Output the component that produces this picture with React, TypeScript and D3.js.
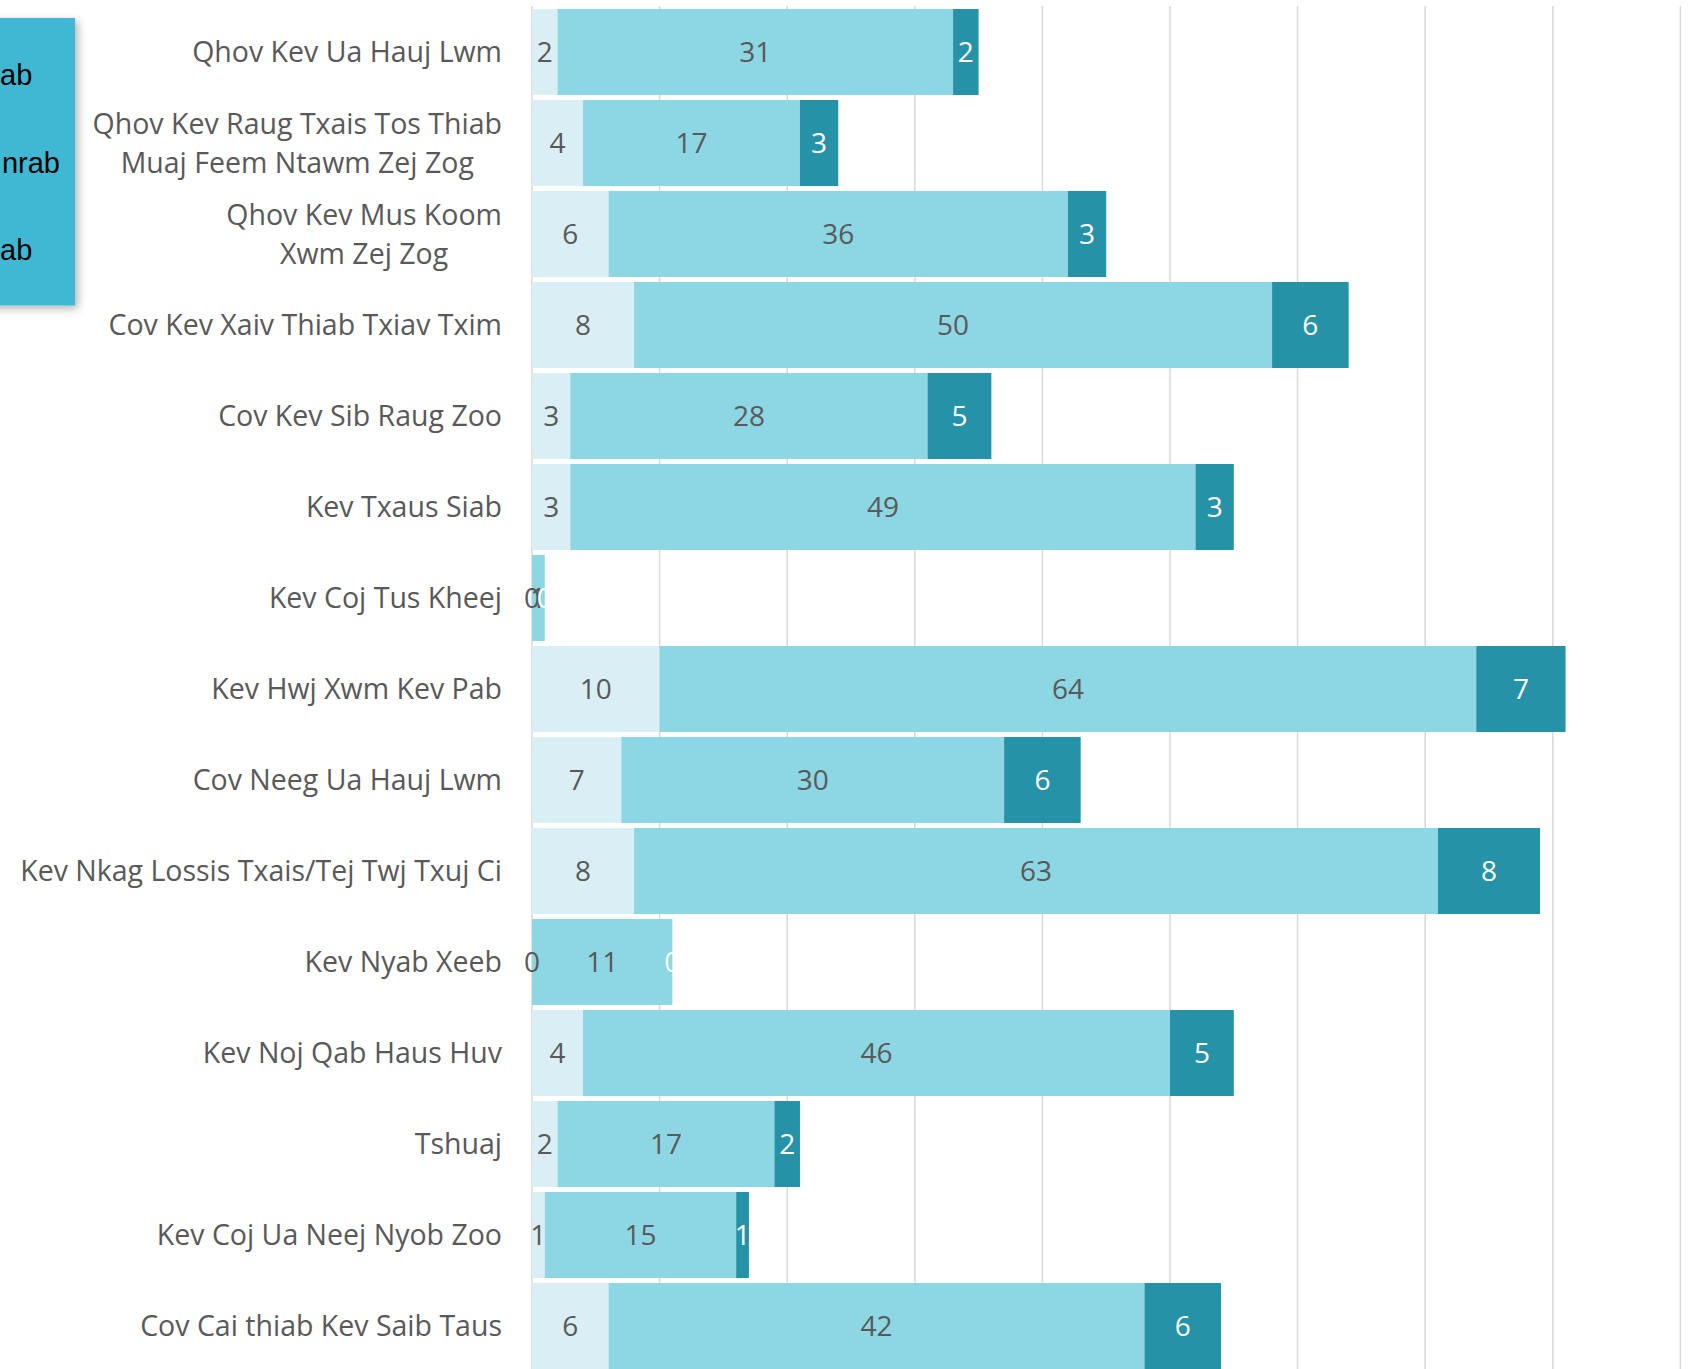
import React, { useEffect, useRef } from "react";
import * as d3 from "d3";

const categories = [
  "Qhov Kev Ua Hauj Lwm",
  "Qhov Kev Raug Txais Tos Thiab\nMuaj Feem Ntawm Zej Zog",
  "Qhov Kev Mus Koom\nXwm Zej Zog",
  "Cov Kev Xaiv Thiab Txiav Txim",
  "Cov Kev Sib Raug Zoo",
  "Kev Txaus Siab",
  "Kev Coj Tus Kheej",
  "Kev Hwj Xwm Kev Pab",
  "Cov Neeg Ua Hauj Lwm",
  "Kev Nkag Lossis Txais/Tej Twj Txuj Ci",
  "Kev Nyab Xeeb",
  "Kev Noj Qab Haus Huv",
  "Tshuaj",
  "Kev Coj Ua Neej Nyob Zoo",
  "Cov Cai thiab Kev Saib Taus",
];

const lowValues = [2, 4, 6, 8, 3, 3, 0, 10, 7, 8, 0, 4, 2, 1, 6];
const midValues = [31, 17, 36, 50, 28, 49, 1, 64, 30, 63, 11, 46, 17, 15, 42];
const highValues = [2, 3, 3, 6, 5, 3, 0, 7, 6, 8, 0, 5, 2, 1, 6];

const seriesKeys = ["low", "mid", "high"];
const seriesNames = ["Tsis txaus siab", "Nruab nrab", "Txaus siab"];
const seriesColors = ["#daeff5", "#8dd6e3", "#2692a7"];
const labelColors = ["#595959", "#595959", "#ffffff"];
const xDomainMax = 90;

const W = 1688;
const H = 1369;

export default function App() {
  const ref = useRef<SVGSVGElement | null>(null);

  useEffect(() => {
    const svg = d3.select(ref.current);
    svg.selectAll("*").remove();

    const rows = categories.map((c, i) => ({
      category: c,
      low: lowValues[i],
      mid: midValues[i],
      high: highValues[i],
    }));

    const x = d3.scaleLinear().domain([0, xDomainMax]).range([532, 532 + 12.76 * xDomainMax]);
    const y = d3
      .scaleBand<string>()
      .domain(categories)
      .range([6.5, 6.5 + 91 * categories.length])
      .paddingInner(5 / 91)
      .paddingOuter(2.5 / 91);

    const defs = svg.append("defs");
    const filt = defs
      .append("filter")
      .attr("id", "shadow")
      .attr("x", "-20%")
      .attr("y", "-20%")
      .attr("width", "150%")
      .attr("height", "150%");
    filt
      .append("feDropShadow")
      .attr("dx", 3)
      .attr("dy", 3)
      .attr("stdDeviation", 4)
      .attr("flood-color", "#000")
      .attr("flood-opacity", 0.3);

    // gridlines
    svg
      .append("g")
      .selectAll("line")
      .data(x.ticks(9))
      .join("line")
      .attr("x1", (d) => x(d))
      .attr("x2", (d) => x(d))
      .attr("y1", 6)
      .attr("y2", H)
      .attr("stroke", "#d9d9d9")
      .attr("stroke-width", 1.5);

    const stacked = d3.stack<any>().keys(seriesKeys)(rows);

    const gBars = svg.append("g");
    stacked.forEach((s, si) => {
      gBars
        .append("g")
        .selectAll("rect")
        .data(s)
        .join("rect")
        .attr("x", (d) => x(d[0]))
        .attr("width", (d) => x(d[1]) - x(d[0]))
        .attr("y", (d) => y(d.data.category)!)
        .attr("height", y.bandwidth())
        .attr("fill", seriesColors[si]);
    });

    const gLabels = svg.append("g").attr("font-family", "'Open Sans', sans-serif").attr("font-size", 28);
    stacked.forEach((s, si) => {
      gLabels
        .append("g")
        .selectAll("text")
        .data(s)
        .join("text")
        .attr("x", (d) => (x(d[0]) + x(d[1])) / 2)
        .attr("y", (d) => y(d.data.category)! + y.bandwidth() / 2)
        .attr("dy", "0.36em")
        .attr("text-anchor", "middle")
        .attr("fill", labelColors[si])
        .text((d) => String(d[1] - d[0]));
    });

    // category labels
    const gCat = svg
      .append("g")
      .attr("font-family", "'Open Sans', sans-serif")
      .attr("font-size", 28.5)
      .attr("fill", "#595959");
    const rightEdge = 502;
    const lineGap = 38.8;
    categories.forEach((c) => {
      const lines = c.split("\n");
      const cy = y(c)! + y.bandwidth() / 2;
      const t = gCat.append("text").attr("text-anchor", "middle");
      const spans = lines.map((ln, li) =>
        t
          .append("tspan")
          .attr("y", cy + (li - (lines.length - 1) / 2) * lineGap)
          .attr("dy", "0.36em")
          .text(ln)
      );
      const widths = spans.map((sp) => (sp.node() as SVGTSpanElement).getComputedTextLength());
      const maxW = Math.max(...widths);
      spans.forEach((sp) => sp.attr("x", rightEdge - maxW / 2));
    });

    // legend
    const gLeg = svg.append("g");
    gLeg
      .append("rect")
      .attr("x", -260)
      .attr("y", 18)
      .attr("width", 335)
      .attr("height", 287.5)
      .attr("fill", "#3fb8d3")
      .attr("filter", "url(#shadow)");
    const legendEnds = [32.3, 60, 32.3];
    gLeg
      .selectAll("text")
      .data(seriesNames)
      .join("text")
      .attr("x", (_, i) => legendEnds[i])
      .attr("y", (_, i) => 85 + i * 87.5)
      .attr("text-anchor", "end")
      .attr("font-family", "'Liberation Sans', Arial, sans-serif")
      .attr("font-size", 29)
      .attr("fill", "#000")
      .text((d) => d);
  }, []);

  return (
    <svg
      ref={ref}
      width={W}
      height={H}
      style={{ position: "absolute", left: 0, top: 0, background: "#fff" }}
    />
  );
}
